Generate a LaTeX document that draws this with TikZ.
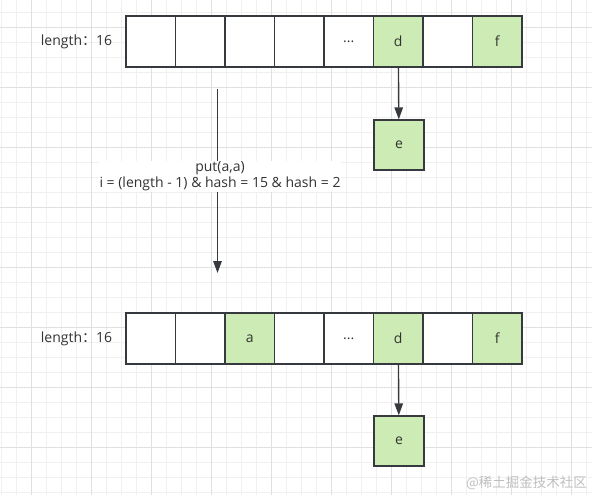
\documentclass[tikz,border=0pt]{standalone}
\usepackage{fontspec}
\setmainfont{Open Sans}
\newfontfamily\cjk{Noto Sans CJK SC}
\usetikzlibrary{arrows.meta}

\definecolor{gridminor}{HTML}{F0F0F0}
\definecolor{gridmajor}{HTML}{E0E0E0}
\definecolor{boxline}{HTML}{36393D}
\definecolor{boxgreen}{HTML}{CDEBB4}
\definecolor{txt}{HTML}{333333}

\newcommand{\elli}{...}

\tikzset{
  cell/.style={draw=boxline, line width=1.3pt, fill=white, minimum width=49.5pt,
    minimum height=51pt, inner sep=0pt, text=txt, font=\fontsize{14}{16}\selectfont},
  full/.style={cell, fill=boxgreen},
  link/.style={draw=boxline, line width=1.4pt, -{Triangle[length=12pt, width=8.5pt]}},
  lbl/.style={text=txt, font=\fontsize{14}{16}\selectfont, inner sep=0pt}
}

\begin{document}
\begin{tikzpicture}[x=1pt, y=-1pt]
	\useasboundingbox (0,0) rectangle (592,495);
	\fill[white] (0,0) rectangle (592,495);

	% grid
	\foreach \i in {0,...,39}
		\draw[gridminor, line width=1pt] ({1.7+15*\i},0) -- ({1.7+15*\i},495);
	\foreach \i in {0,...,32}
		\draw[gridminor, line width=1pt] (0,{12.3+15*\i}) -- (592,{12.3+15*\i});
	\foreach \i in {0,...,9}
		\draw[gridmajor, line width=1pt] ({31.7+60*\i},0) -- ({31.7+60*\i},495);
	\foreach \i in {0,...,7}
		\draw[gridmajor, line width=1pt] (0,{27.3+60*\i}) -- (592,{27.3+60*\i});

	% before put
	\node[lbl] (len1) at (76.5, 41.5) {length{\cjk ：}16};
	\foreach \i/\s/\t in {0/cell/, 1/cell/, 2/cell/, 3/cell/, 4/cell/\elli, 5/full/d, 6/cell/, 7/full/f}
		\node[\s] (t\i) at ({150.75+49.5*\i}, 41.5) {\t};
	\node[full, minimum width=50pt, minimum height=50pt] (te) at (399, 145) {e};
	\draw[link] (t5) -- (te);

	% put(a,a)
	\coordinate (p1) at (217.5, 89);
	\coordinate (p2) at (217.5, 273);
	\draw[link] (p1) -- (p2);
	\node[lbl, fill=white, align=center, inner xsep=1pt, inner ysep=1pt] (put) at (220, 176.5)
		{put(a,a)\\i = (length - 1) \& hash = 15 \& hash = 2};

	% after put
	\node[lbl] (len2) at (76.5, 338.5) {length{\cjk ：}16};
	\foreach \i/\s/\t in {0/cell/, 1/cell/, 2/full/a, 3/cell/, 4/cell/\elli, 5/full/d, 6/cell/, 7/full/f}
		\node[\s] (b\i) at ({150.75+49.5*\i}, 338.5) {\t};
	\node[full, minimum width=50pt, minimum height=50pt] (be) at (399, 441) {e};
	\draw[link] (b5) -- (be);

	\node[text=black!25, font=\cjk\fontsize{13.5}{15}\selectfont, anchor=east, inner sep=0pt] (mark) at (587, 483) {@稀土掘金技术社区};
\end{tikzpicture}
\end{document}
